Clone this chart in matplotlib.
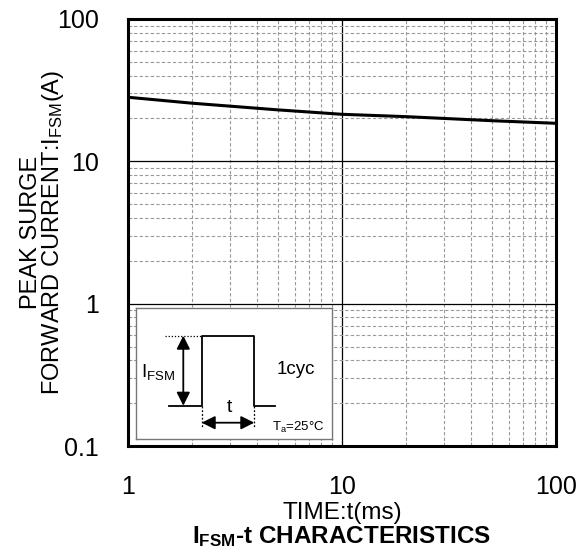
import matplotlib.pyplot as plt
import numpy as np

plt.rcParams['font.family'] = ['Liberation Sans', 'DejaVu Sans']
plt.rcParams['mathtext.fontset'] = 'custom'
plt.rcParams['mathtext.rm'] = 'Liberation Sans'
plt.rcParams['mathtext.bf'] = 'Liberation Sans:bold'
plt.rcParams['mathtext.default'] = 'regular'

# curve
time_ms = [1, 2, 5, 10, 20, 50, 100]
ifsm_a = [28.2, 25.6, 23.0, 21.4, 20.6, 19.3, 18.5]

xticks = [1, 10, 100]
xtick_labels = ['1', '10', '100']
yticks = [0.1, 1, 10, 100]
ytick_labels = ['0.1', '1', '10', '100']

fig = plt.figure(figsize=(5.81, 5.60), dpi=100)
ax = fig.add_axes([128 / 581, 114 / 560, 428 / 581, 427 / 560])

ax.set_xscale('log')
ax.set_yscale('log')
ax.set_xlim(1, 100)
ax.set_ylim(0.1, 100)

ax.grid(which='major', color='black', linewidth=0.9, linestyle='-')
ax.grid(which='minor', color='#999999', linewidth=0.8, linestyle=(0, (3, 2)))
ax.set_axisbelow(True)

ax.plot(time_ms, ifsm_a, color='black', linewidth=2.2, zorder=5)

ax.set_xticks(xticks)
ax.set_xticklabels(xtick_labels)
ax.set_yticks(yticks)
ax.set_yticklabels(ytick_labels)
ax.tick_params(which='both', direction='in', top=False, right=False)
ax.tick_params(which='major', length=0, labelsize=18)
ax.tick_params(axis='x', which='major', pad=21)
ax.tick_params(axis='y', which='major', pad=21)
ax.tick_params(which='minor', length=3, width=0.6, color='#999999')
for s in ax.spines.values():
    s.set_linewidth(2.2)

ax.set_xlabel('TIME:t(ms)', fontsize=17.5, va='center')
ax.xaxis.set_label_coords(0.5, -0.156)
ax.set_ylabel('PEAK SURGE\nFORWARD CURRENT:I$_{FSM}$(A)', fontsize=17,
              linespacing=0.92, va='center')
ax.yaxis.set_label_coords(-0.199, 0.5)

fig.text(0.5 * (128 + 556) / 581, 23 / 560,
         r'I$_{\mathbf{FSM}}$-t CHARACTERISTICS', fontsize=17.5,
         fontweight='bold', ha='center', va='center')

# inset with pulse sketch, drawn in pixel-like units of the box
ins = fig.add_axes([136 / 581, 121 / 560, 196 / 581, 131 / 560])
ins.set_xlim(136, 332)
ins.set_ylim(439, 308)
ins.set_xticks([])
ins.set_yticks([])
ins.set_facecolor('white')
for s in ins.spines.values():
    s.set_color('#777777')
    s.set_linewidth(1.0)

ins.plot([169, 201.7, 201.7, 254.3, 254.3, 275.3],
         [405.7, 405.7, 335.7, 335.7, 405.7, 405.7], color='black', lw=1.3)
ins.plot([165, 201.7], [335.7, 335.7], color='black', lw=0.9, linestyle=(0, (1, 1.5)))
ins.plot([201.7, 201.7], [405.7, 428], color='black', lw=0.9, linestyle=(0, (1.5, 1.5)))
ins.plot([254.3, 254.3], [405.7, 428], color='black', lw=0.9, linestyle=(0, (1.5, 1.5)))
ins.annotate('', xy=(183.3, 335.7), xytext=(183.3, 405.7),
             arrowprops=dict(arrowstyle='<|-|>', color='black', lw=1.3,
                             shrinkA=0, shrinkB=0, mutation_scale=20))
ins.annotate('', xy=(201.7, 422.7), xytext=(254.3, 422.7),
             arrowprops=dict(arrowstyle='<|-|>', color='black', lw=1.3,
                             shrinkA=0, shrinkB=0, mutation_scale=20))
ins.text(141, 372, 'I$_{FSM}$', fontsize=13.5, ha='left', va='center')
ins.text(229, 407, 't', fontsize=14, ha='center', va='center')
ins.text(296, 369, '1cyc', fontsize=13.5, ha='center', va='center')
ins.text(298, 427, 'T$_a$=25°C', fontsize=9.5, ha='center', va='center')

fig.savefig('out.png', dpi=100)
